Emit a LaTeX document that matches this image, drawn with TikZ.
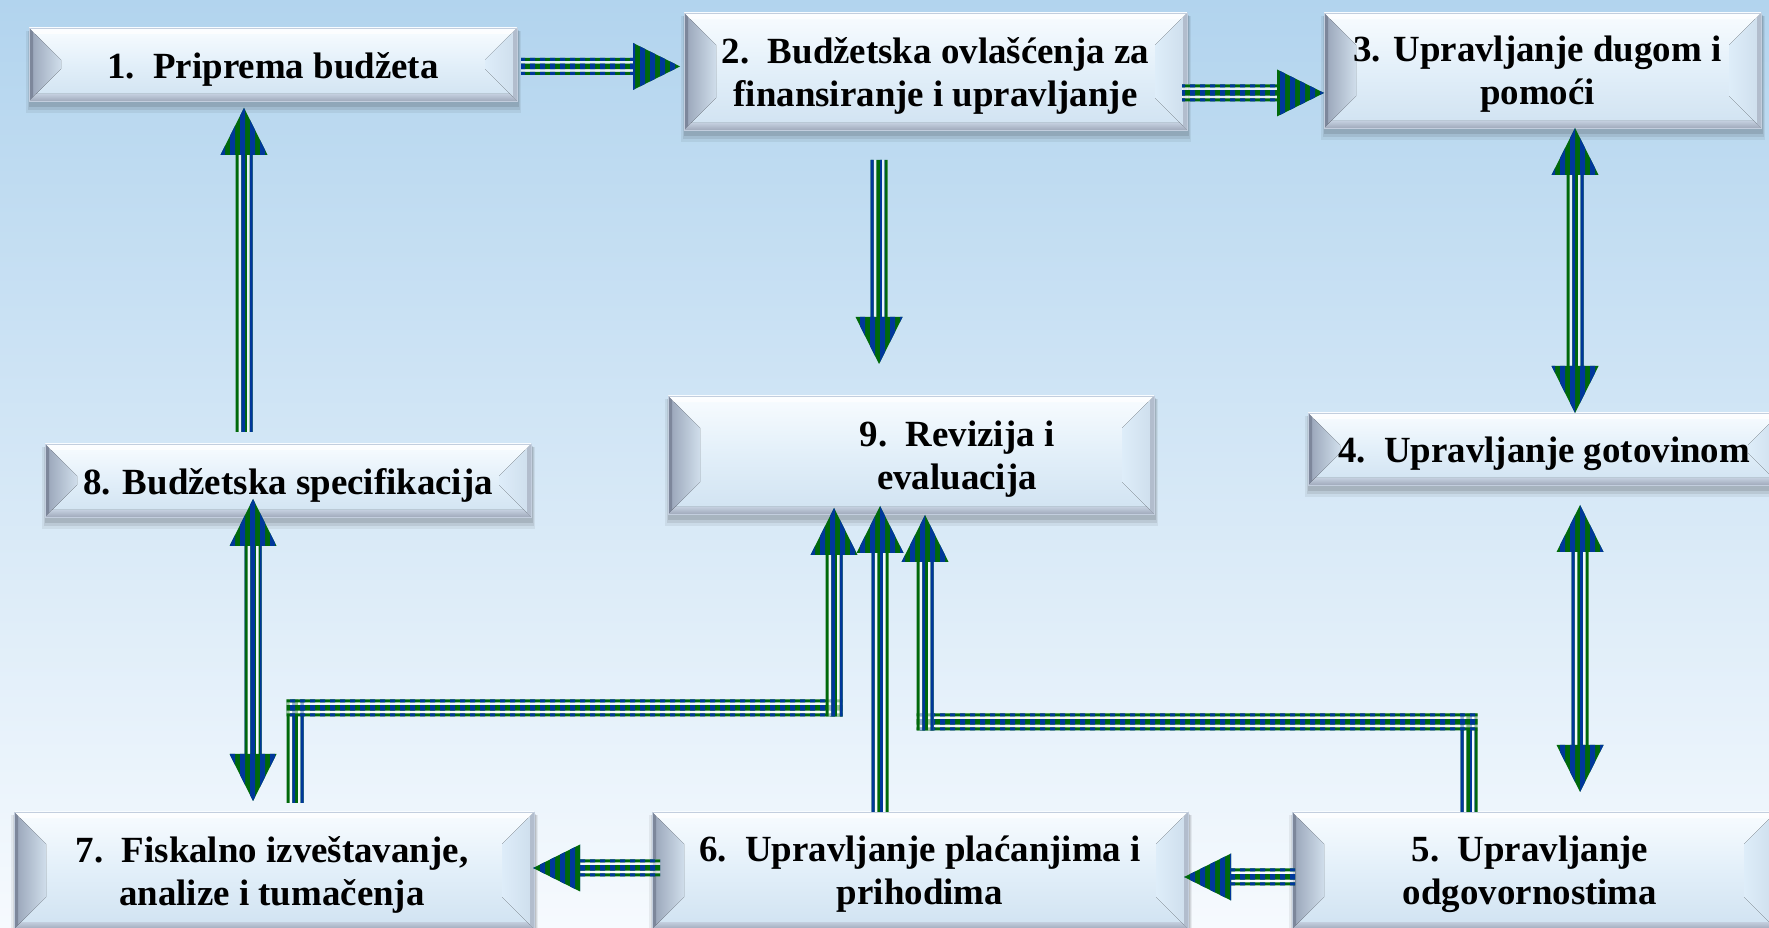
\documentclass[tikz,border=0pt]{standalone}
\usepackage{fontspec}
\setmainfont{Liberation Serif}
\usetikzlibrary{calc}
\definecolor{bgtop}{RGB}{178,212,238}
\definecolor{bgbot}{RGB}{246,250,254}
\definecolor{agreen}{RGB}{0,105,10}
\definecolor{ablue}{RGB}{0,55,155}
\definecolor{faceT}{RGB}{248,252,255}
\definecolor{faceM}{RGB}{226,239,249}
\definecolor{faceB}{RGB}{208,226,241}
\definecolor{bevLo}{RGB}{150,162,182}
\definecolor{bevLi}{RGB}{208,222,235}
\definecolor{bevRo}{RGB}{205,221,236}
\definecolor{bevRi}{RGB}{222,237,249}
\definecolor{edgeL}{RGB}{125,135,155}
\definecolor{edgeB}{RGB}{160,170,187}
\definecolor{edgeR}{RGB}{178,189,205}
\definecolor{edgeT}{RGB}{195,206,222}
\pgfdeclarelayer{bglayer}
\pgfdeclarelayer{shlayer}
\pgfsetlayers{bglayer,shlayer,main}
\newcommand\boxfont{\fontsize{21}{24.4}\selectfont\bfseries}
\tikzset{
  sz/.style 2 args={minimum width=#1*0.02cm, minimum height=#2*0.02cm},
  txt/.style={font=\boxfont, align=center, inner sep=0pt, text=black},
  bevelbox/.style={rectangle, inner sep=0pt, draw=edgeT, line width=0.5pt,
    top color=faceT, bottom color=faceB, middle color=faceM,
    path picture={
      \coordinate (pNW) at (path picture bounding box.north west);
      \coordinate (pNE) at (path picture bounding box.north east);
      \coordinate (pSW) at (path picture bounding box.south west);
      \coordinate (pSE) at (path picture bounding box.south east);
      \fill[left color=bevLo, right color=bevLi] (pNW) -- ($(pNW)+(32,32)$) -- ($(pSW)+(32,-32)$) -- (pSW) -- cycle;
      \fill[left color=bevRi, right color=bevRo] (pNE) -- ($(pNE)+(-32,32)$) -- ($(pSE)+(-32,-32)$) -- (pSE) -- cycle;
      \fill[white, opacity=.7] (pNW) -- ($(pNW)+(6,6)$) -- ($(pNE)+(-6,6)$) -- (pNE) -- cycle;
      \fill[top color=edgeT, bottom color=edgeB] (pSW) -- ($(pSW)+(7,-7)$) -- ($(pSE)+(-7,-7)$) -- (pSE) -- cycle;
      \fill[edgeL] (pNW) -- ($(pNW)+(4,4)$) -- ($(pSW)+(4,-4)$) -- (pSW) -- cycle;
      \fill[edgeR] (pNE) -- ($(pNE)+(-4,4)$) -- ($(pSE)+(-4,-4)$) -- (pSE) -- cycle;
    }},
  striped/.style={fill=agreen, path picture={
      \fill[ablue] \foreach \sx in {0,10,...,1770}{(\sx,0) rectangle ++(5,930)};}},
  gapc/.style={fill=white, opacity=.6}
}
\newcommand\hsh[2]{%
  \fill[gapc] ($(#1)+(0,-8.5)$) rectangle ($(#2)+(0,8.5)$);
  \path[striped] ($(#1)+(0,-8.5)$) rectangle ($(#2)+(0,-5.5)$)
     ($(#1)+(0,-2.75)$) rectangle ($(#2)+(0,2.75)$)
     ($(#1)+(0,5.5)$) rectangle ($(#2)+(0,8.5)$);}
\newcommand\vsh[2]{%
  \fill[gapc] ($(#1)+(-8.5,0)$) rectangle ($(#2)+(8.5,0)$);
  \path[striped] ($(#1)+(-8.5,0)$) rectangle ($(#2)+(-5.5,0)$)
     ($(#1)+(-2.75,0)$) rectangle ($(#2)+(2.75,0)$)
     ($(#1)+(5.5,0)$) rectangle ($(#2)+(8.5,0)$);}
\newcommand\headR[1]{\path[striped] (#1) -- ++(-47,-23.5) -- ++(0,47) -- cycle;}
\newcommand\headL[1]{\path[striped] (#1) -- ++(47,-23.5) -- ++(0,47) -- cycle;}
\newcommand\headU[1]{\path[striped] (#1) -- ++(-23.5,47) -- ++(47,0) -- cycle;}
\newcommand\headD[1]{\path[striped] (#1) -- ++(-23.5,-47) -- ++(47,0) -- cycle;}
\newcommand\arrR[2]{\coordinate (hb) at ($(#2)+(-45,0)$); \hsh{#1}{hb}\headR{#2}}
\newcommand\arrL[2]{\coordinate (hb) at ($(#2)+(45,0)$); \hsh{hb}{#1}\headL{#2}}
\newcommand\arrU[2]{\coordinate (hb) at ($(#2)+(0,45)$); \vsh{#1}{hb}\headU{#2}}
\newcommand\arrD[2]{\coordinate (hb) at ($(#2)+(0,-45)$); \vsh{#1}{hb}\headD{#2}}
\newcommand\arrUD[2]{\coordinate (hbu) at ($(#1)+(0,45)$); \coordinate (hbd) at ($(#2)+(0,-45)$);
  \vsh{hbu}{hbd}\headU{#1}\headD{#2}}
\newcommand\boxshadow[1]{%
  \fill[black,opacity=.06] ($(#1.north west)+(-3,3)$) rectangle ($(#1.south east)+(4,12)$);
  \fill[black,opacity=.08] ($(#1.north west)+(-1,3)$) rectangle ($(#1.south east)+(3,9)$);
  \fill[black,opacity=.10] ($(#1.north west)+(0,2)$) rectangle ($(#1.south east)+(2,6)$);}
\begin{document}
\begin{tikzpicture}[x=0.02cm, y=-0.02cm]
\useasboundingbox (0,0) rectangle (1769,928);
\begin{pgfonlayer}{bglayer}
  \shade[top color=bgtop, bottom color=bgbot] (0,0) rectangle (1769,928);
\end{pgfonlayer}
\clip (0,0) rectangle (1769,928);
% boxes
\node[bevelbox, sz={488}{73}]  (b1) at (273,64.5)   {};
\node[bevelbox, sz={503}{117}] (b2) at (935.5,71.5) {};
\node[bevelbox, sz={437}{115}] (b3) at (1542.5,70.5) {};
\node[bevelbox, sz={472}{72}]  (b4) at (1544,449)   {};
\node[bevelbox, sz={486}{73}]  (b8) at (288,480.5)  {};
\node[bevelbox, sz={486}{118}] (b9) at (911,455)    {};
\node[bevelbox, sz={520}{117}] (b7) at (274,870.5)  {};
\node[bevelbox, sz={536}{117}] (b6) at (920,870.5)  {};
\node[bevelbox, sz={484}{117}] (b5) at (1534,870.5) {};
% texts
\node[txt] (t1) at ($(b1.center)+(0,5)$) {1.\ \ Priprema budžeta};
\node[txt] (t2) at ($(b2.center)+(0,4)$) {2.\ \ Budžetska ovlašćenja za\\finansiranje i upravljanje};
\node[txt] (t3) at ($(b3.center)+(-5,4)$) {3. Upravljanje dugom i\\pomoći};
\node[txt] (t4) at ($(b4.center)+(0,5)$) {4.\ \ Upravljanje gotovinom};
\node[txt] (t8) at ($(b8.center)+(0,5)$) {8. Budžetska specifikacija};
\node[txt] (t9) at ($(b9.center)+(46,4)$) {9.\ \ Revizija i\\evaluacija};
\node[txt] (t7) at ($(b7.center)+(-2,4)$) {7.\ \ Fiskalno izveštavanje,\\analize i tumačenja};
\node[txt] (t6) at ($(b6.center)+(0,4)$) {6.\ \ Upravljanje plaćanjima i\\prihodima};
\node[txt] (t5) at ($(b5.center)+(-4,4)$) {5.\ \ Upravljanje\\odgovornostima};
\begin{pgfonlayer}{shlayer}
  \foreach \b in {b1,b2,b3,b4,b5,b6,b7,b8,b9} {\boxshadow{\b}}
\end{pgfonlayer}
% arrow end points
\coordinate (s81) at (244,432);   \coordinate (e81) at (244,108);
\coordinate (s12) at (521,66.5);  \coordinate (e12) at (680,66.5);
\coordinate (s23) at (1182,93);   \coordinate (e23) at (1324,93);
\coordinate (s29) at (879,160);   \coordinate (e29) at (879,364);
\coordinate (e34a) at (1575,128); \coordinate (e34b) at (1575,413);
\coordinate (e45a) at (1580,505); \coordinate (e45b) at (1580,792);
\coordinate (e87a) at (253,499);  \coordinate (e87b) at (253,801);
\coordinate (s67) at (660,868);   \coordinate (e67) at (533,868);
\coordinate (s56) at (1295,877);  \coordinate (e56) at (1184,877);
\coordinate (s79) at (295,803);   \coordinate (c79a) at (295,699.5);
\coordinate (c79b) at (286.5,708); \coordinate (c79c) at (842.5,708);
\coordinate (c79d) at (834,716.5); \coordinate (e79) at (834,508);
\coordinate (s69) at (880,812);   \coordinate (e69) at (880,506);
\coordinate (s59) at (1469,812);  \coordinate (c59a) at (1469,713.5);
\coordinate (c59b) at (1477.5,722); \coordinate (c59c) at (916.5,722);
\coordinate (c59d) at (925,730.5); \coordinate (e59) at (925,515);
% connectors
\arrU{s81}{e81}
\arrR{s12}{e12}
\arrR{s23}{e23}
\arrD{s29}{e29}
\arrUD{e34a}{e34b}
\arrUD{e45a}{e45b}
\arrUD{e87a}{e87b}
\arrL{s67}{e67}
\arrL{s56}{e56}
\vsh{s79}{c79a}\hsh{c79b}{c79c}\arrU{c79d}{e79}
\arrU{s69}{e69}
\vsh{s59}{c59a}\hsh{c59c}{c59b}\arrU{c59d}{e59}
\end{tikzpicture}
\end{document}
